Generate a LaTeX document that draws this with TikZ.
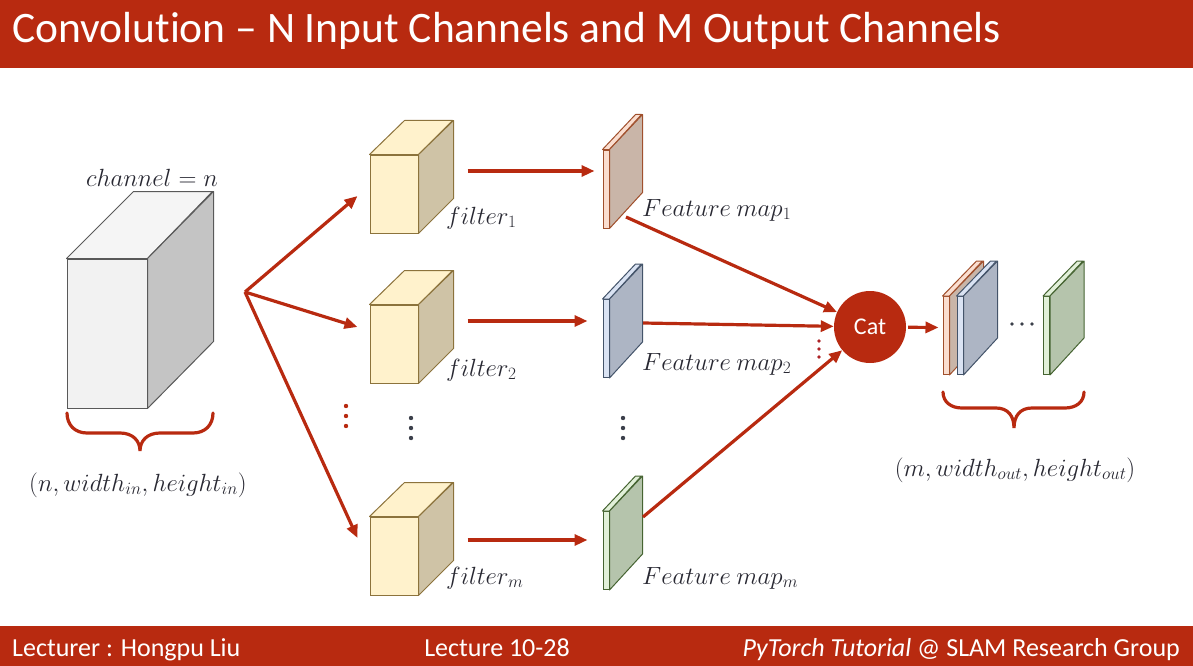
\documentclass[tikz,border=0pt]{standalone}
\usepackage{fontspec}
\setmainfont{Carlito}[Ligatures=NoCommon]
\usetikzlibrary{arrows.meta,positioning,calc}

\definecolor{slidered}{RGB}{184,42,16}
\definecolor{labelgray}{RGB}{40,40,50}
\definecolor{dotgray}{RGB}{60,64,75}
\definecolor{cubeEdge}{RGB}{89,89,89}
\definecolor{cubeFront}{RGB}{242,242,242}
\definecolor{cubeTop}{RGB}{245,245,245}
\definecolor{cubeSide}{RGB}{196,196,196}
\definecolor{filtEdge}{RGB}{140,115,60}
\definecolor{filtFront}{RGB}{255,242,204}
\definecolor{filtSide}{RGB}{207,195,166}
\definecolor{orgEdge}{RGB}{160,80,45}
\definecolor{orgThin}{RGB}{250,222,208}
\definecolor{orgFace}{RGB}{201,181,168}
\definecolor{bluEdge}{RGB}{68,84,106}
\definecolor{bluThin}{RGB}{218,227,243}
\definecolor{bluFace}{RGB}{173,181,196}
\definecolor{grnEdge}{RGB}{70,100,50}
\definecolor{grnThin}{RGB}{226,240,217}
\definecolor{grnFace}{RGB}{181,196,172}

\begin{document}
\begin{tikzpicture}[
        x=1pt, y=-1pt,
        titletext/.style={text=white, font=\fontsize{43.5}{50}\selectfont, inner sep=0},
        foottext/.style={text=white, font=\fontsize{26}{30}\selectfont, inner sep=0},
        inputbox/.style={rectangle, draw=cubeEdge, fill=cubeFront, line width=1pt,
            minimum width=80, minimum height=149, inner sep=0},
        inputface/.style={draw=cubeEdge, line width=1pt, line join=round},
        filterbox/.style={rectangle, draw=filtEdge, fill=filtFront, line width=1pt,
            minimum width=48, minimum height=78, inner sep=0},
        filterface/.style={draw=filtEdge, line width=1pt, line join=round},
        platebox/.style={rectangle, line width=1pt, minimum width=6, minimum height=78, inner sep=0},
        plateface/.style={line width=1pt, line join=round},
        mathlabel/.style={text=labelgray, font=\fontsize{24}{28}\selectfont, inner sep=0},
        catnode/.style={circle, fill=slidered, text=white, minimum size=72,
            font=\fontsize{24}{28}\selectfont, inner sep=0},
        arrow/.style={line width=3.2pt, draw=slidered, -{Triangle[length=13pt,width=11pt]}},
        bracepath/.style={line width=3.2pt, draw=slidered, line cap=round},
    ]
        \useasboundingbox (0,0) rectangle (1193,666);
        % title and footer bars
        \fill[slidered] (0,0) rectangle (1193,68);
        \fill[slidered] (0,626) rectangle (1193,666);
        \node[titletext, anchor=west] (title) at (12,31) {Convolution – N Input Channels and M Output Channels};
        \node[foottext, anchor=base west] (lecturer) at (12,656) {Lecturer : Hongpu Liu};
        \node[foottext, anchor=base] (lecture) at (497,656) {Lecture 10-28};
        \node[foottext, anchor=base east] (group) at (1180,656) {\textit{PyTorch Tutorial} @ SLAM Research Group};

        % input cube
        \node[inputbox] (in) at (107,333.5) {};
        \draw[inputface, fill=cubeTop] (in.north west) -- ++(67,-67) -- ++(79,0) -- (in.north east) -- cycle;
        \draw[inputface, fill=cubeSide] (in.north east) -- ++(66,-67) -- ++(0,150) -- (in.south east) -- cycle;
        \node[mathlabel] (chan) at (152,178) {$channel=n$};
        \draw[bracepath] (67,413) .. controls (67,425) and (75,433) .. (87,433) -- (120,433)
            .. controls (133,433) and (140,441) .. (140,451) .. controls (140,441) and (147,433) .. (160,433)
            -- (193,433) .. controls (205,433) and (213,425) .. (213,413);
        \node[mathlabel] (insize) at (138,485) {$(n,width_{in},height_{in})$};
        \coordinate (split) at (245,292);

        % filters
        \foreach \n/\y/\ly in {1/194/218, 2/344/370, m/556/578} {
            \node[filterbox] (f\n) at (394,\y) {};
            \draw[filterface, fill=filtFront] (f\n.north west) -- ++(35,-34) -- ++(48,0) -- (f\n.north east) -- cycle;
            \draw[filterface, fill=filtSide] (f\n.north east) -- ++(35,-34) -- ++(0,78) -- (f\n.south east) -- cycle;
            \node[mathlabel, anchor=west] (lf\n) at (446,\ly) {$filter_{\n}$};
        }

        % feature maps
        \foreach \n/\y/\c/\ly in {1/189/org/210, 2/338.5/blu/364, m/550.5/grn/578} {
            \node[platebox, draw=\c Edge, fill=\c Thin] (m\n) at (606,\y) {};
            \draw[plateface, draw=\c Edge, fill=\c Thin] (m\n.north west) -- ++(33,-35) -- ++(6,0) -- (m\n.north east) -- cycle;
            \draw[plateface, draw=\c Edge, fill=\c Face] (m\n.north east) -- ++(33,-35) -- ++(0,78) -- (m\n.south east) -- cycle;
            \node[mathlabel, anchor=west] (lm\n) at (642,\ly) {$Feature\ map_{\n}$};
        }

        % concatenation
        \node[catnode] (cat) at (870,327) {Cat};

        % output maps
        \foreach \n/\x/\c in {1/946/org, 2/960/blu, 3/1046.5/grn} {
            \node[platebox, draw=\c Edge, fill=\c Thin] (o\n) at (\x,335.5) {};
            \draw[plateface, draw=\c Edge, fill=\c Thin] (o\n.north west) -- ++(34,-35) -- ++(6,0) -- (o\n.north east) -- cycle;
            \draw[plateface, draw=\c Edge, fill=\c Face] (o\n.north east) -- ++(34,-35) -- ++(0,77) -- (o\n.south east) -- cycle;
        }
        \draw[bracepath] (943,392) .. controls (943,402) and (951,408) .. (962,408) -- (996,408)
            .. controls (1008,408) and (1014,416) .. (1014,428) .. controls (1014,416) and (1020,408) .. (1032,408)
            -- (1065,408) .. controls (1076,408) and (1084,402) .. (1084,392);
        \node[mathlabel] (outsize) at (1015,470) {$(m,width_{out},height_{out})$};

        % dots
        \foreach \d in {0,10,20} {
            \fill[slidered] (346,406+\d) circle (2.2);
            \fill[dotgray] (411,418+\d) circle (2.2);
            \fill[dotgray] (623,418+\d) circle (2.2);
            \fill[dotgray] (1012+\d,324) circle (1.8);
        }
        \foreach \d in {0,8,16}
            \fill[slidered!80!violet] (819,341+\d) circle (1.8);

        % connectors
        \draw[arrow] (split) -- ([shift={(-12,2)}]f1.west);
        \draw[arrow] (split) -- ([shift={(-12,-17)}]f2.west);
        \draw[arrow] (split) -- ([shift={(-12,-18)}]fm.west);
        \draw[arrow] ([shift={(49,-23)}]f1.east) -- ([shift={(-8,-18)}]m1.west);
        \draw[arrow] ([shift={(49,-23)}]f2.east) -- ([shift={(-15,-17.5)}]m2.west);
        \draw[arrow] ([shift={(49,-16)}]fm.east) -- ([shift={(-15,-10.5)}]mm.west);
        \draw[arrow] ([shift={(20,28)}]m1.center) -- (cat);
        \draw[arrow] ([shift={(37,-15.5)}]m2.center) -- (cat);
        \draw[arrow] ([shift={(37,-33.5)}]mm.center) -- (cat);
        \draw[arrow, shorten <=2pt] (cat) -- ([shift={(-4,-8)}]o1.west);
    \end{tikzpicture}
\end{document}
